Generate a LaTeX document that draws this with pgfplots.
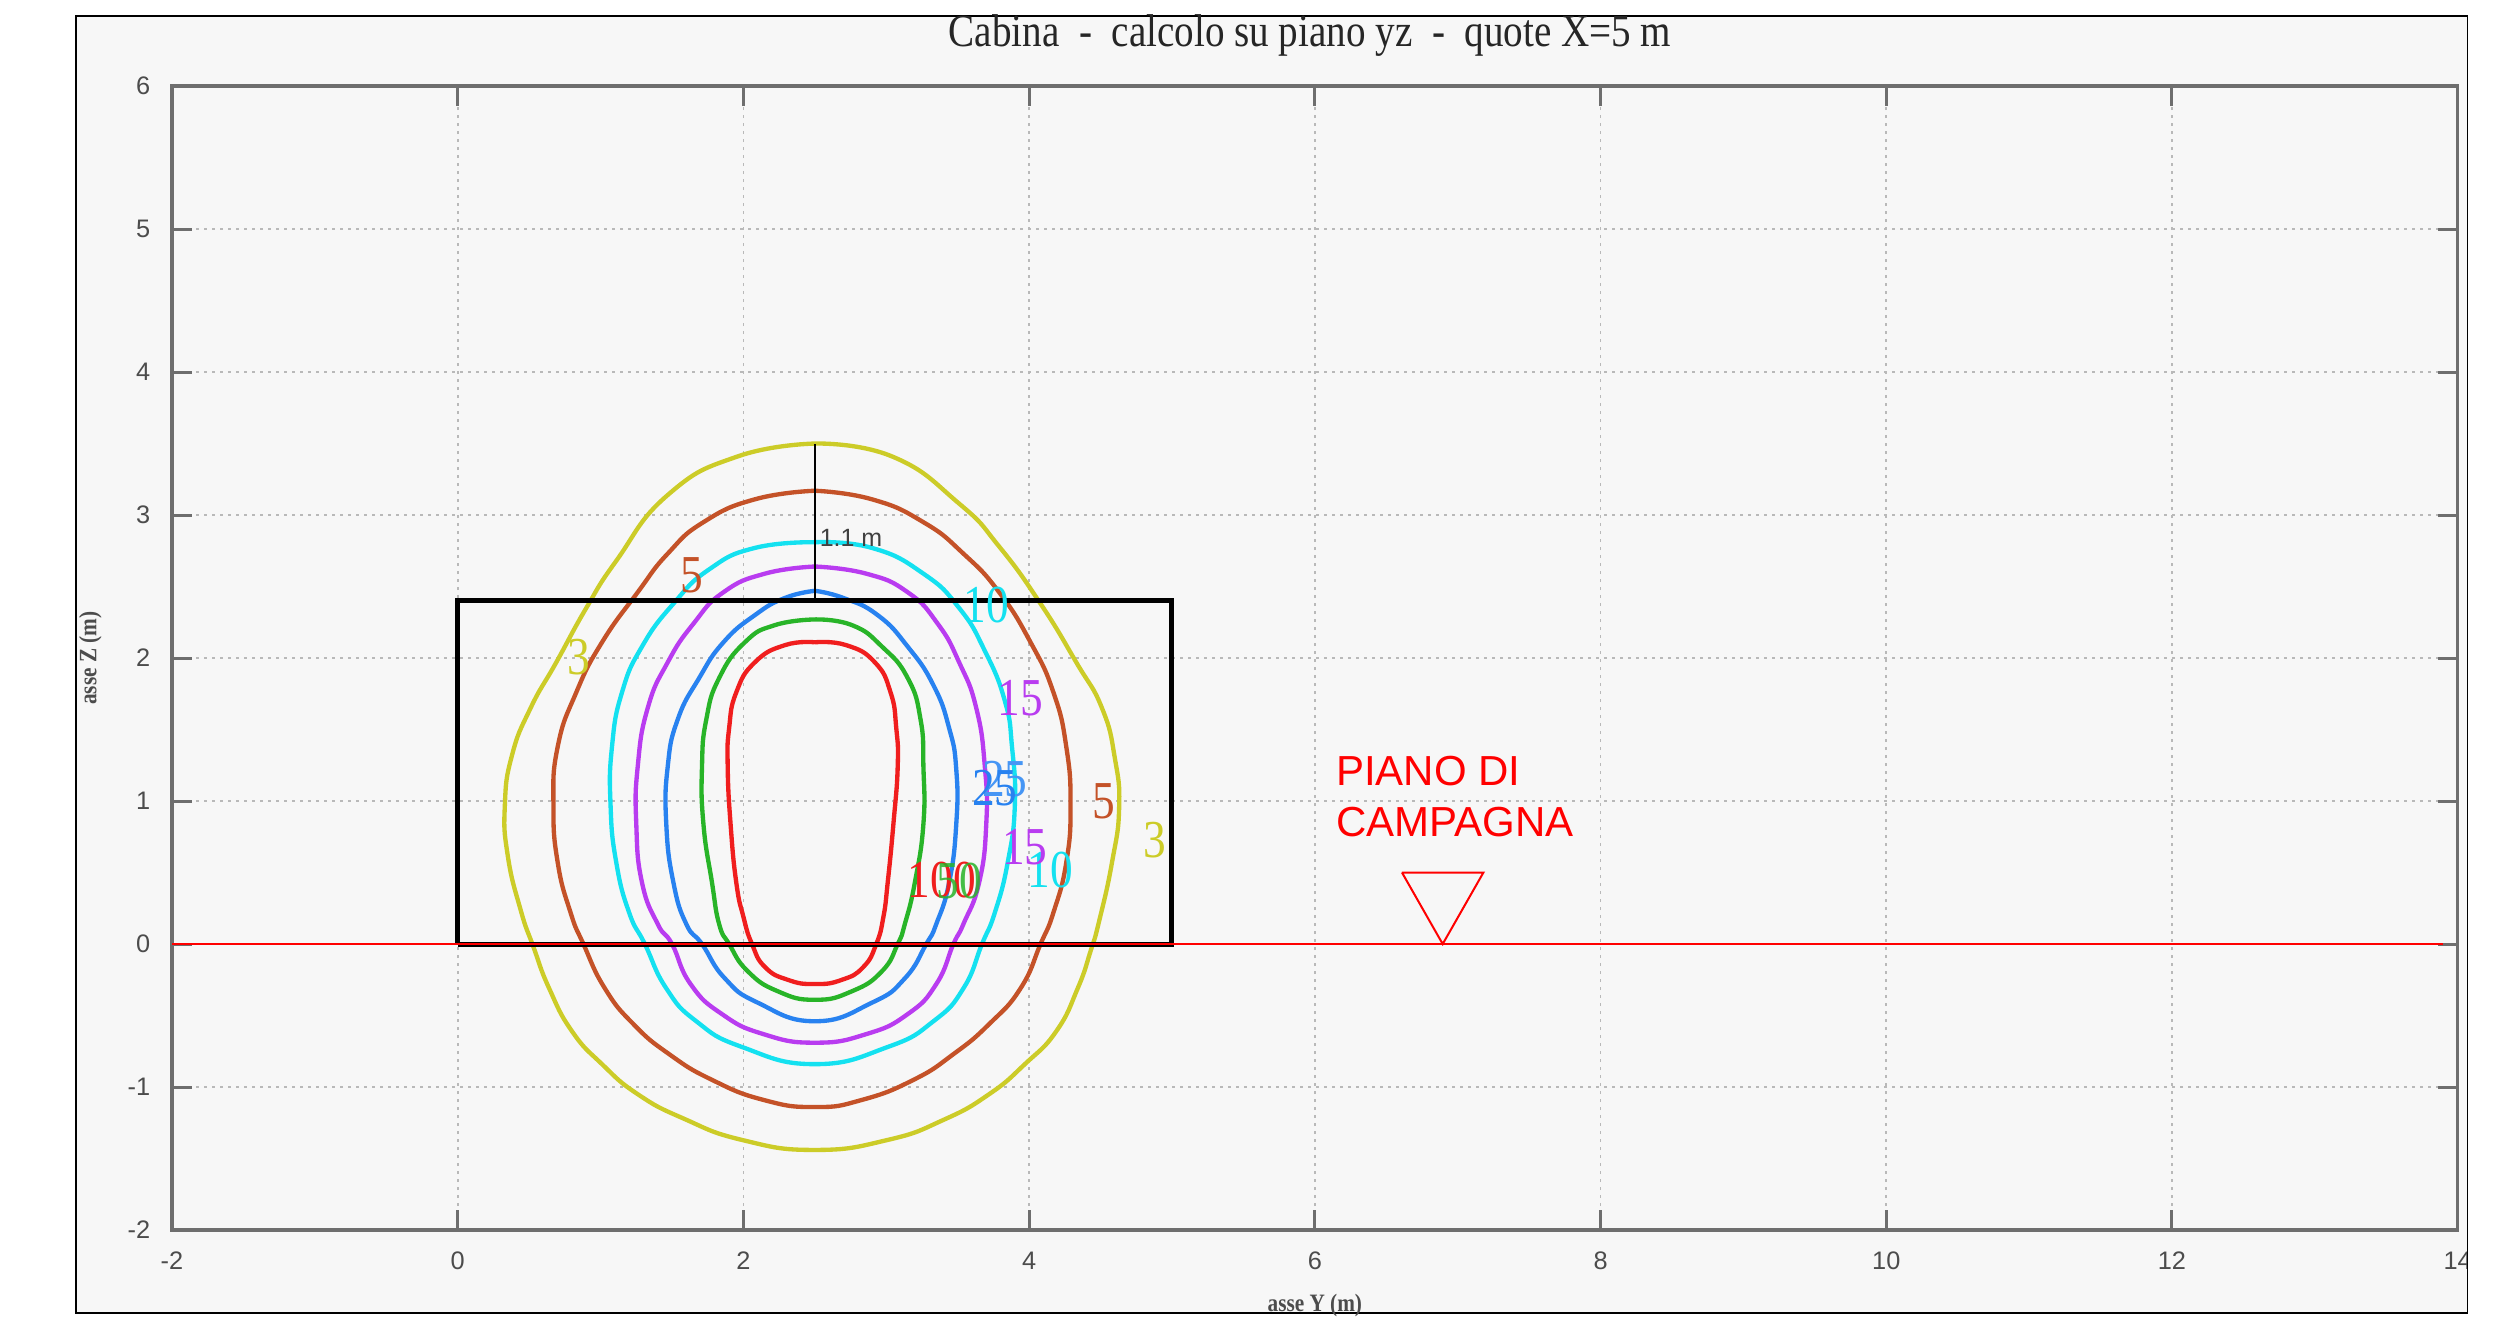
\documentclass[border=0pt]{standalone}
\usepackage{fontspec}
\setmainfont{Liberation Serif}
\setsansfont{Liberation Sans}
\newfontfamily\condserif[FakeStretch=0.85]{Liberation Serif}
\usepackage{pgfplots}
\pgfplotsset{compat=1.18}

\definecolor{cyel}{RGB}{204,204,40}
\definecolor{cbrn}{RGB}{196,82,40}
\definecolor{ccyn}{RGB}{20,225,240}
\definecolor{cmag}{RGB}{185,60,240}
\definecolor{cblu}{RGB}{40,130,240}
\definecolor{cblu2}{RGB}{70,150,245}
\definecolor{cgrn}{RGB}{40,180,40}
\definecolor{cred}{RGB}{240,30,30}
\definecolor{panel}{RGB}{247,247,247}
\definecolor{axgray}{RGB}{110,110,110}

\newcommand{\lab}{\condserif\fontsize{16}{16}\selectfont}

\begin{document}
\begin{tikzpicture}
\useasboundingbox (0,0) rectangle (755.1pt,-397.2pt);
\fill[white] (0,0) rectangle (755.1pt,-397.2pt);
\filldraw[fill=panel, draw=black, line width=0.5pt] (22.7pt,-4.8pt) rectangle (740.2pt,-393.9pt);

\begin{axis}[
    at={(51.6pt,-369pt)}, anchor=south west,
    scale only axis, width=685.7pt, height=343.2pt,
    xmin=-2, xmax=14, ymin=-2, ymax=6,
    xtick={-2,0,...,14}, ytick={-2,-1,...,6},
    tick align=inside, major tick length=6pt,
    every tick/.style={axgray, line width=0.9pt},
    axis line style={axgray, line width=1pt},
    grid=major,
    grid style={gray!55, line width=0.5pt, dash pattern=on 0.8pt off 1.6pt},
    tick label style={font=\sffamily\fontsize{7.6}{9}\selectfont, text=black!70},
    /pgf/number format/assume math mode=true,
    yticklabel style={xshift=-3pt},
    xticklabel style={yshift=-3pt},
    xlabel={asse Y (m)},
    xlabel style={font=\condserif\fontsize{7.5}{9}\selectfont\bfseries, text=black!70,
        at={(axis description cs:0.5,-0.066)}, anchor=center},
    ylabel={asse Z (m)},
    ylabel style={font=\condserif\fontsize{7.5}{9}\selectfont\bfseries, text=black!70,
        at={(axis description cs:-0.0357,0.5)}, anchor=center},
    every axis plot/.append style={line width=1.3pt, smooth, tension=0.85, no marks},
]

% 3
\addplot[cyel] coordinates {
(2.5,3.5)(3.04,3.41)(3.51,3.08)(3.79,2.78)(4.08,2.38)(4.33,1.97)(4.51,1.65)(4.60,1.30)
(4.63,0.95)(4.58,0.57)(4.49,0.16)(4.43,-0.05)(4.34,-0.31)(4.19,-0.61)(3.97,-0.84)
(3.72,-1.05)(3.40,-1.23)(3.01,-1.37)(2.5,-1.44)(1.99,-1.37)(1.58,-1.22)(1.26,-1.05)
(1.01,-0.84)(0.80,-0.61)(0.64,-0.31)(0.53,-0.02)(0.44,0.24)(0.35,0.62)(0.33,0.97)
(0.38,1.32)(0.51,1.65)(0.69,1.97)(0.90,2.35)(1.11,2.68)(1.47,3.14)(1.96,3.41)(2.5,3.5)};
% 5
\addplot[cbrn] coordinates {
(2.5,3.17)(2.90,3.11)(3.26,2.95)(3.54,2.73)(3.79,2.46)(4.01,2.11)(4.17,1.76)(4.26,1.38)
(4.29,0.97)(4.26,0.57)(4.17,0.22)(4.08,0)(3.94,-0.31)(3.72,-0.56)(3.47,-0.77)(3.19,-0.95)
(2.83,-1.09)(2.5,-1.14)(2.14,-1.09)(1.78,-0.95)(1.48,-0.77)(1.23,-0.56)(1.03,-0.31)
(0.88,0)(0.79,0.22)(0.70,0.57)(0.67,0.97)(0.70,1.38)(0.83,1.76)(1.01,2.11)(1.26,2.46)
(1.47,2.73)(1.72,2.95)(2.08,3.11)(2.5,3.17)};
% 10
\addplot[ccyn] coordinates {
(2.5,2.81)(2.90,2.77)(3.26,2.59)(3.51,2.35)(3.69,2.05)(3.83,1.70)(3.88,1.38)(3.90,0.97)
(3.85,0.57)(3.76,0.22)(3.67,0)(3.54,-0.31)(3.33,-0.54)(3.01,-0.72)(2.5,-0.84)(1.99,-0.72)
(1.67,-0.54)(1.46,-0.31)(1.31,0)(1.20,0.22)(1.11,0.57)(1.07,0.97)(1.08,1.38)(1.15,1.76)
(1.29,2.08)(1.51,2.38)(1.76,2.62)(2.08,2.77)(2.5,2.81)};
% 15
\addplot[cmag] coordinates {
(2.5,2.64)(2.86,2.59)(3.15,2.46)(3.36,2.24)(3.51,1.97)(3.63,1.65)(3.69,1.24)(3.70,0.84)
(3.65,0.43)(3.54,0.14)(3.47,0)(3.35,-0.28)(3.15,-0.49)(2.86,-0.63)(2.5,-0.69)(2.14,-0.63)
(1.85,-0.49)(1.63,-0.28)(1.50,0)(1.40,0.14)(1.29,0.43)(1.25,0.84)(1.26,1.24)(1.33,1.65)
(1.47,1.97)(1.65,2.24)(1.86,2.46)(2.15,2.59)(2.5,2.64)};
% 25
\addplot[cblu] coordinates {
(2.5,2.47)(2.70,2.42)(2.94,2.30)(3.15,2.08)(3.33,1.81)(3.44,1.51)(3.49,1.22)(3.49,0.84)
(3.44,0.43)(3.35,0.14)(3.28,0)(3.13,-0.24)(2.90,-0.41)(2.5,-0.54)(2.10,-0.41)(1.87,-0.24)
(1.71,0)(1.60,0.14)(1.51,0.43)(1.46,0.84)(1.47,1.24)(1.54,1.57)(1.69,1.86)(1.86,2.11)
(2.08,2.30)(2.29,2.42)(2.5,2.47)};
% 50
\addplot[cgrn] coordinates {
(2.5,2.27)(2.76,2.23)(2.97,2.08)(3.15,1.86)(3.24,1.57)(3.26,1.24)(3.26,0.84)(3.20,0.43)
(3.13,0.14)(3.08,0)(2.97,-0.19)(2.76,-0.33)(2.5,-0.39)(2.24,-0.33)(2.03,-0.19)(1.90,0)
(1.83,0.14)(1.78,0.43)(1.72,0.84)(1.71,1.24)(1.74,1.57)(1.83,1.86)(2.01,2.11)(2.22,2.23)
(2.5,2.27)};
% 100
\addplot[cred] coordinates {
(2.5,2.11)(2.72,2.09)(2.92,1.97)(3.03,1.76)(3.07,1.51)(3.08,1.24)(3.05,0.84)(3.01,0.43)
(2.98,0.19)(2.93,0)(2.84,-0.16)(2.69,-0.25)(2.5,-0.28)(2.31,-0.25)(2.15,-0.16)(2.06,0)
(2.00,0.19)(1.95,0.43)(1.91,0.84)(1.89,1.24)(1.90,1.51)(1.95,1.76)(2.08,1.97)(2.29,2.09)
(2.5,2.11)};

% cabin outline
\addplot[black, line width=1.5pt, sharp plot] coordinates {(0,0)(5,0)(5,2.4)(0,2.4)(0,0)};
% distance line
\addplot[black, line width=0.5pt, sharp plot, mark=*, mark size=1.1pt, mark indices={2}]
    coordinates {(2.5,2.4)(2.5,3.5)};
% ground level
\addplot[red, line width=0.6pt, sharp plot] coordinates {(-2,0)(13.9,0)};
\addplot[red, line width=0.6pt, sharp plot] coordinates {(6.61,0.50)(7.18,0.50)(6.895,0)(6.61,0.50)};

\node[text=cyel, font=\lab] at (axis cs:0.85,2.01) {3};
\node[text=cyel, font=\lab] at (axis cs:4.88,0.73) {3};
\node[text=cbrn, font=\lab] at (axis cs:1.64,2.58) {5};
\node[text=cbrn, font=\lab] at (axis cs:4.52,1.00) {5};
\node[text=ccyn, font=\lab] at (axis cs:3.70,2.37) {10};
\node[text=ccyn, font=\lab] at (axis cs:4.15,0.52) {10};
\node[text=cmag, font=\lab] at (axis cs:3.94,1.72) {15};
\node[text=cmag, font=\lab] at (axis cs:3.97,0.68) {15};
\node[text=cblu2, font=\lab] at (axis cs:3.83,1.15) {25};
\node[text=cblu, font=\lab] at (axis cs:3.76,1.09) {25};
\node[text=cred, font=\lab] at (axis cs:3.39,0.445) {100};
\node[text=cgrn, font=\lab, opacity=0.85] at (axis cs:3.51,0.44) {50};
\node[anchor=west, inner sep=0pt, text=black!75, font=\sffamily\fontsize{7.5}{9}\selectfont]
    at (axis cs:2.53,2.84) {1.1 m};
\node[anchor=base west, inner sep=0pt, text=red, font=\sffamily\fontsize{12.6}{15}\selectfont]
    at (axis cs:6.145,1.107) {PIANO DI};
\node[anchor=base west, inner sep=0pt, text=red, font=\sffamily\fontsize{12.6}{15}\selectfont]
    at (axis cs:6.145,0.755) {CAMPAGNA};
\end{axis}

% title
\node[anchor=center, inner sep=0pt, text=black!85, font=\condserif\fontsize{13.8}{16}\selectfont]
    at (393pt,-10.6pt) {Cabina \ - \ calcolo su piano yz \ - \ quote X=5 m};

\fill[white] (740.45pt,0) rectangle (755.1pt,-397.2pt);
\draw[black, line width=0.5pt] (740.2pt,-4.8pt) -- (740.2pt,-393.9pt);
\end{tikzpicture}
\end{document}
